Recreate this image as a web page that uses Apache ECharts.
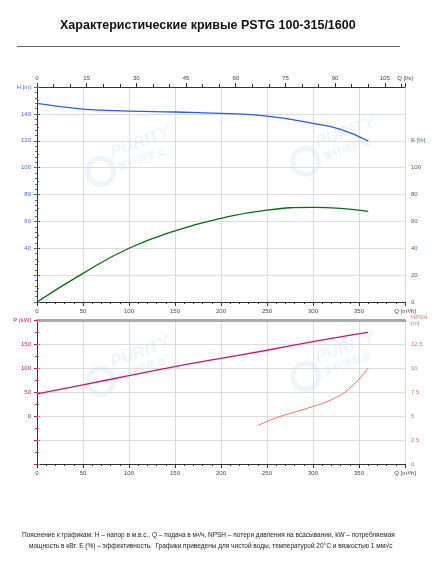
<!DOCTYPE html>
<html>
<head>
<meta charset="utf-8">
<script src="https://cdn.jsdelivr.net/npm/echarts@6/dist/echarts.min.js"></script>
<style>
  html, body { margin: 0; padding: 0; background: #fff; }
  #chart { width: 440px; height: 567px; }
</style>
</head>
<body>
<div id="chart"></div>
<script>
// подача, м3/ч
const qFlow = [0, 50, 100, 150, 200, 250, 300, 330, 360]
const headH = [147.8, 143.6, 142.1, 141.4, 140.4, 138.4, 133, 128.5, 119.8]
const effE = [0, 21.3, 40, 53, 62.3, 68.4, 70.4, 69.7, 67.5]
const powerP = [46, 65, 84, 103, 120, 137, 155, 165, 174]
const qNpsh = [240, 260, 280, 300, 320, 340, 360]
const npsh = [4.0, 4.8, 5.4, 6.0, 6.7, 7.9, 10.0]

const pairs = (xs, ys) => xs.map((x, i) => [x, ys[i]])

const chart = echarts.init(document.getElementById('chart'))

const FONT = 'Liberation Sans'
const lbl = (color) => ({ fontSize: 6, color: color, fontFamily: FONT })
const grey = '#dcdcdc'
const dark = '#333'

function wm(x, y) {
  const c = 'rgba(175,195,228,0.2)'
  return {
    type: 'group', x: x, y: y, rotation: 0.35, silent: true,
    children: [
      { type: 'text', style: { text: 'PURITY', x: 14, y: 0, fill: c, font: 'italic bold 17px Liberation Sans' } },
      { type: 'text', style: { text: '普轩特泵业', x: 16, y: 19, fill: c, font: 'bold 10px "Noto Sans CJK SC"' } },
      { type: 'circle', shape: { cx: -2, cy: 22, r: 13 }, style: { fill: 'none', stroke: c, lineWidth: 5 } }
    ]
  }
}

const xBottom = (gi) => ({
  gridIndex: gi, type: 'value', position: 'bottom', min: 0, max: 400, interval: 50,
  axisLine: { onZero: false, lineStyle: { color: dark } },
  axisTick: { length: 4, lineStyle: { color: dark } },
  minorTick: { show: true, splitNumber: 5, length: 2, lineStyle: { color: dark } },
  splitLine: { lineStyle: { color: grey } },
  axisLabel: { ...lbl('#444'), margin: 6, formatter: v => v >= 400 ? 'Q [m³/h]' : v }
})

chart.setOption({
  animation: false,
  title: {
    text: 'Характеристические кривые PSTG 100-315/1600',
    left: 55,
    top: 14,
    textStyle: { fontSize: 12.5, fontWeight: 'bold', color: '#111', fontFamily: FONT }
  },
  graphic: [
    { type: 'line', shape: { x1: 17, y1: 46.5, x2: 400, y2: 46.5 }, style: { stroke: '#666', lineWidth: 1 } },
    wm(95, 150), wm(300, 140), wm(95, 360), wm(300, 355),
    {
      type: 'text', left: 22, top: 532,
      style: {
        text: 'Пояснение к графикам: H – напор в м.в.с., Q – подача в м³/ч, NPSH – потери давления на всасывании, kW – потребляемая',
        fill: '#222', font: '6.5px Liberation Sans'
      }
    },
    {
      type: 'text', left: 29, top: 543,
      style: {
        text: 'мощность в кВт. E (%) – эффективность.  Графики приведены для чистой воды, температурой 20°C и вязкостью 1 мм²/с',
        fill: '#222', font: '6.5px Liberation Sans'
      }
    }
  ],
  grid: [
    { left: 37, right: 35, top: 87, height: 215 },
    { left: 37, right: 35, top: 320, height: 144 }
  ],
  xAxis: [
    xBottom(0),
    {
      gridIndex: 0, type: 'value', position: 'top', min: 0, max: 400, interval: 54,
      axisLine: { onZero: false, lineStyle: { color: dark } },
      axisTick: { length: 4, lineStyle: { color: dark } },
      minorTick: { show: true, splitNumber: 3, length: 3, lineStyle: { color: dark } },
      splitLine: { show: false },
      axisLabel: { ...lbl('#444'), margin: 6, hideOverlap: false, formatter: v => v >= 400 ? 'Q [l/s]' : Math.round(v / 3.6) }
    },
    xBottom(1),
    {
      gridIndex: 1, type: 'value', position: 'top', min: 0, max: 400,
      axisLine: { onZero: false, lineStyle: { color: '#aaa', width: 3 } },
      axisTick: { show: false }, axisLabel: { show: false }, splitLine: { show: false }
    }
  ],
  yAxis: [
    {
      gridIndex: 0, type: 'value', position: 'left', min: 0, max: 160, interval: 20,
      axisLine: { show: true, lineStyle: { color: dark } },
      axisTick: { show: true, length: 3, lineStyle: { color: '#4466cc' } },
      minorTick: { show: true, splitNumber: 5, length: 2, lineStyle: { color: '#4466cc' } },
      splitLine: { lineStyle: { color: grey } },
      axisLabel: { ...lbl('#4a68d0'), margin: 6, formatter: v => v >= 160 ? 'H [m]' : (v < 40 ? '' : v) }
    },
    {
      gridIndex: 0, type: 'value', position: 'right', min: 0, max: 160, interval: 20,
      axisLine: { show: true, lineStyle: { color: dark } },
      axisTick: { show: true, length: 3, lineStyle: { color: '#2e7d32' } },
      minorTick: { show: true, splitNumber: 2, length: 2, lineStyle: { color: '#2e7d32' } },
      splitLine: { show: false },
      axisLabel: { ...lbl('#2e7d32'), margin: 6, formatter: v => v === 120 ? 'E [%]' : (v > 100 ? '' : v) }
    },
    {
      gridIndex: 1, type: 'value', position: 'left', min: -100, max: 200, interval: 50,
      axisLine: { show: true, onZero: false, lineStyle: { color: dark } },
      axisTick: { show: true, length: 3, lineStyle: { color: '#c8127e' } },
      minorTick: { show: true, splitNumber: 2, length: 2, lineStyle: { color: '#c8127e' } },
      splitLine: { lineStyle: { color: grey } },
      axisLabel: { ...lbl('#c8127e'), margin: 6, formatter: v => v >= 200 ? 'P [kW]' : (v < 0 ? '' : v) }
    },
    {
      gridIndex: 1, type: 'value', position: 'right', min: 0, max: 15, interval: 2.5,
      axisLine: { show: true, lineStyle: { color: dark } },
      axisTick: { show: true, length: 3, lineStyle: { color: '#f07060' } },
      minorTick: { show: true, splitNumber: 2, length: 2, lineStyle: { color: '#f07060' } },
      splitLine: { show: false },
      axisLabel: { ...lbl('#f07060'), margin: 6, formatter: v => v >= 15 ? 'NPSH\n[m]' : v }
    }
  ],
  series: [
    {
      name: 'H', type: 'line', xAxisIndex: 0, yAxisIndex: 0, smooth: true, showSymbol: false,
      data: pairs(qFlow, headH), lineStyle: { color: '#2b5ce6', width: 1.3 }
    },
    {
      name: 'E', type: 'line', xAxisIndex: 0, yAxisIndex: 1, smooth: true, showSymbol: false,
      data: pairs(qFlow, effE), lineStyle: { color: '#0a6a14', width: 1.3 }
    },
    {
      name: 'P', type: 'line', xAxisIndex: 2, yAxisIndex: 2, smooth: true, showSymbol: false,
      data: pairs(qFlow, powerP), lineStyle: { color: '#c8127e', width: 1.3 }
    },
    {
      name: 'NPSH', type: 'line', xAxisIndex: 2, yAxisIndex: 3, smooth: true, showSymbol: false,
      data: pairs(qNpsh, npsh), lineStyle: { color: '#f07060', width: 1 }
    }
  ]
})
</script>
</body>
</html>
